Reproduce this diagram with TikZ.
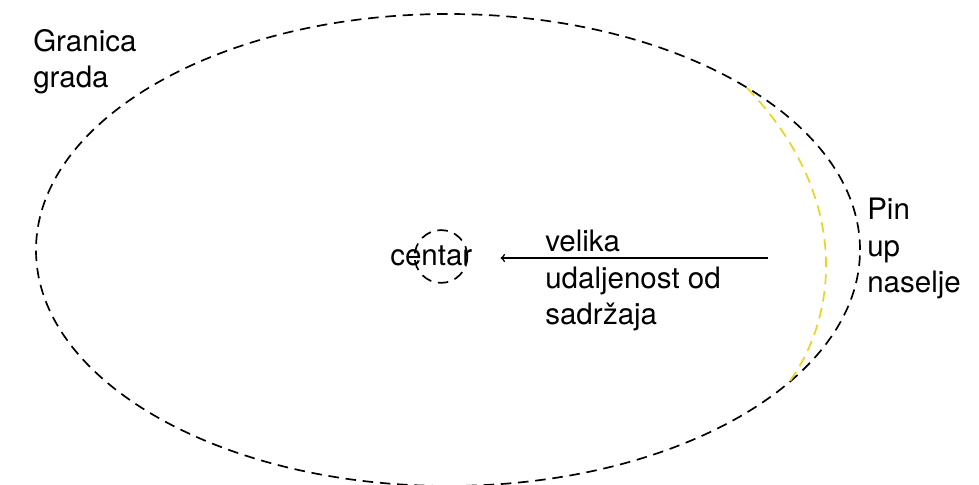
\documentclass[tikz,border=0pt]{standalone}
\usepackage{fontspec}
\setmainfont{TeX Gyre Heros}
\usetikzlibrary{positioning, shapes.geometric}

\definecolor{zuta}{RGB}{230,215,30}

\tikzset{
  granica/.style={draw, dash pattern=on 7.5pt off 4.8pt, line width=1.2pt},
  tekst/.style={inner sep=0pt, align=left, anchor=base west,
    font=\fontsize{21}{26}\selectfont},
  strelica/.style={->, line width=1.1pt}
}

\begin{document}
\begin{tikzpicture}
      \useasboundingbox (0,0) rectangle (24.475,12.125);
      \node[granica, ellipse, minimum width=20.6cm, minimum height=11.8cm] (grad) at (11.2,5.875) {};
      \node[granica, circle, minimum size=1.32cm] (krug) at (11.025,5.7125) {};
      \draw[granica, draw=zuta] (18.675,9.925) .. controls (21.25,7.25) and (21.0,4.25) .. (19.675,2.5);
      \node[tekst] (granicagrada) at (0.825,9.925) {Granica\\grada};
      \node[tekst] (centar) at (9.75,5.475) {centar};
      \node[tekst] (udaljenost) at (13.625,4.0) {velika\\udaljenost od\\sadržaja};
      \node[tekst] (pinup) at (21.675,4.8) {Pin\\up\\naselje};
      \coordinate (pocetak) at (19.2,5.675);
      \draw[strelica, shorten >=0.7cm] (pocetak) -- (pocetak -| centar.east);
    \end{tikzpicture}
\end{document}
